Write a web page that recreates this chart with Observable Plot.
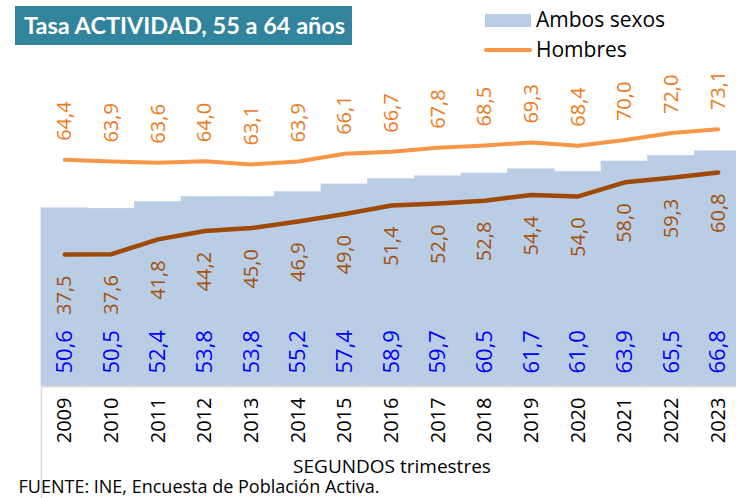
<!DOCTYPE html>
<html>
<head>
<meta charset="utf-8">
<script src="https://cdn.jsdelivr.net/npm/d3@7"></script>
<script src="https://cdn.jsdelivr.net/npm/@observablehq/plot@0.6"></script>
<style>
  html, body { margin: 0; padding: 0; background: white; }
  #wrap { width: 736px; height: 498px; overflow: hidden; position: relative; }
  #header { position: relative; width: 736px; height: 62px; font-family: "Open Sans", sans-serif; }
  #title { position: absolute; left: 15px; top: 6px; width: 337px; height: 39px; background: #31849b; color: white;
           font-family: Lato, sans-serif; font-weight: bold; font-size: 23.5px; line-height: 39px; padding-left: 9px; box-sizing: border-box; white-space: nowrap; }
  .sw { position: absolute; }
  .lt { position: absolute; left: 536px; font-size: 21px; color: #000; line-height: 1; white-space: nowrap; }
  #chart svg { display: block; }
</style>
</head>
<body>
<div id="wrap">
  <div id="header">
    <div id="title">Tasa ACTIVIDAD, 55 a 64 años</div>
    <div class="sw" style="left:485px; top:14px; width:46px; height:13px; background:#b9cde5;"></div>
    <div class="lt" style="top:9px;">Ambos sexos</div>
    <div class="sw" style="left:484px; top:48px; width:48px; height:4px; border-radius:2px; background:#f79646;"></div>
    <div class="lt" style="top:39px;">Hombres</div>
  </div>
  <div id="chart"></div>
</div>
<script>
const years   = [2009, 2010, 2011, 2012, 2013, 2014, 2015, 2016, 2017, 2018, 2019, 2020, 2021, 2022, 2023];
const ambos   = [50.6, 50.5, 52.4, 53.8, 53.8, 55.2, 57.4, 58.9, 59.7, 60.5, 61.7, 61.0, 63.9, 65.5, 66.8];
const hombres = [64.4, 63.9, 63.6, 64.0, 63.1, 63.9, 66.1, 66.7, 67.8, 68.5, 69.3, 68.4, 70.0, 72.0, 73.1];
const mujeres = [37.5, 37.6, 41.8, 44.2, 45.0, 46.9, 49.0, 51.4, 52.0, 52.8, 54.4, 54.0, 58.0, 59.3, 60.8];
const xTitle = "SEGUNDOS trimestres";
const source = "FUENTE: INE, Encuesta de Población Activa.";

const data = years.map((year, i) => ({year, ambos: ambos[i], hombres: hombres[i], mujeres: mujeres[i]}));
const fmt = v => v.toFixed(1).replace(".", ",");

const chart = Plot.plot({
  width: 736,
  height: 436,
  marginLeft: 41,
  marginRight: 0,
  marginTop: 0,
  marginBottom: 112,
  style: {fontFamily: "'Open Sans', sans-serif", background: "white"},
  x: {type: "linear", domain: [years[0] - 0.5, years[years.length - 1] + 0.5], range: [41, 741], axis: null, label: null},
  y: {domain: [0, 90], range: [324, 7.2], axis: null},
  marks: [
    Plot.rectY(data, {x1: d => d.year - 0.5, x2: d => d.year + 0.5, y: "ambos", fill: "#b9cde5", stroke: "#b9cde5", strokeWidth: 0.6}),
    Plot.ruleY([0], {stroke: "#d9d9d9", strokeWidth: 2}),
    Plot.ruleX([years[0] - 0.5], {y1: 0, y2: -32, stroke: "#d9d9d9", strokeWidth: 1.5}),
    Plot.lineY(data, {x: "year", y: "hombres", stroke: "#f79646", strokeWidth: 4, strokeLinecap: "round"}),
    Plot.lineY(data, {x: "year", y: "mujeres", stroke: "#9e4a06", strokeWidth: 4.5, strokeLinecap: "round"}),
    Plot.text(data, {x: "year", y: "hombres", text: d => fmt(d.hombres), rotate: -90, textAnchor: "start", dy: -19, fill: "#ec7a1c", fontSize: 20}),
    Plot.text(data, {x: "year", y: "mujeres", text: d => fmt(d.mujeres), rotate: -90, textAnchor: "end", dy: 21, fill: "#a3520f", fontSize: 20}),
    Plot.text(data, {x: "year", y: 0, text: d => fmt(d.ambos), rotate: -90, textAnchor: "start", dy: -13, fill: "#0000ff", fontSize: 22}),
    Plot.axisX(years, {tickFormat: d => String(d), tickRotate: -90, tickSize: 0, tickPadding: 11, fontSize: 20, color: "black", textAnchor: "end", lineAnchor: "middle", label: null}),
    Plot.text([xTitle], {frameAnchor: "bottom", dy: 86, dx: 3, fontSize: 19, fill: "black"}),
    Plot.text([source], {frameAnchor: "bottom-left", textAnchor: "start", dx: -23, dy: 106, fontSize: 18, fill: "black"})
  ]
});
document.getElementById("chart").appendChild(chart);
</script>
</body>
</html>
